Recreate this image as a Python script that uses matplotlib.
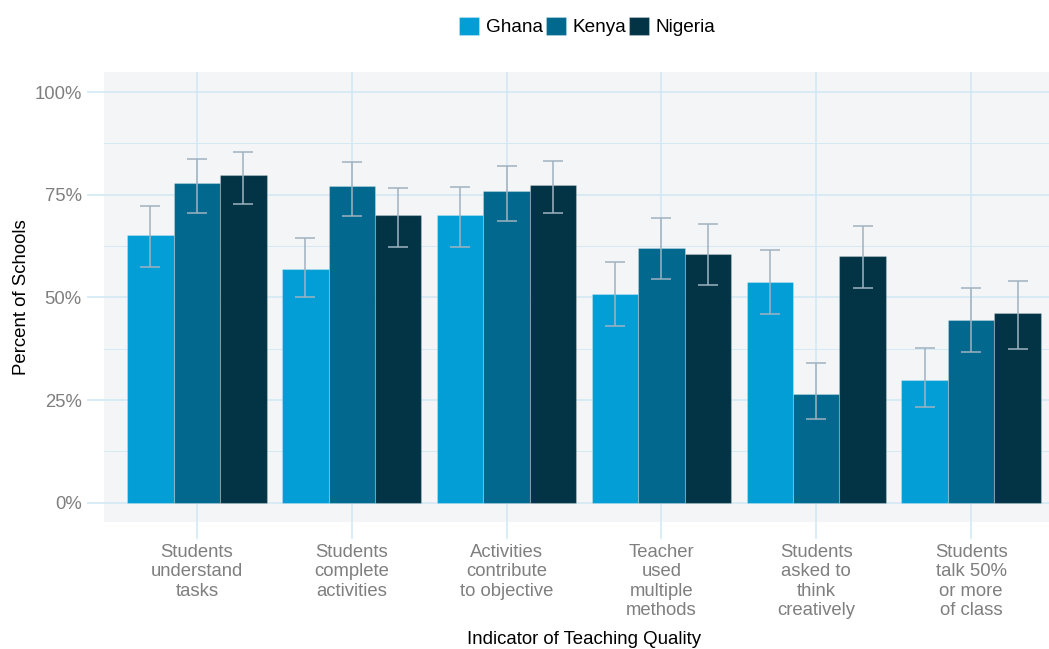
import numpy as np
import matplotlib.pyplot as plt

plt.rcParams['font.family'] = ['Liberation Sans', 'DejaVu Sans']

# Данные: доля школ по индикаторам качества преподавания
categories = ["Students\nunderstand\ntasks", "Students\ncomplete\nactivities",
              "Activities\ncontribute\nto objective", "Teacher\nused\nmultiple\nmethods",
              "Students\nasked to\nthink\ncreatively", "Students\ntalk 50%\nor more\nof class"]
countries = ["Ghana", "Kenya", "Nigeria"]
colors = ["#039ed5", "#02688e", "#023446"]

ghana = [65.2, 56.9, 70.1, 50.9, 53.8, 29.9]
kenya = [77.8, 77.1, 75.9, 62.0, 26.5, 44.5]
nigeria = [79.8, 70.1, 77.4, 60.6, 60.1, 46.2]

ghana_lo = [57.4, 50.1, 62.3, 43.1, 46.0, 23.4]
ghana_hi = [72.3, 64.5, 76.9, 58.6, 61.6, 37.7]
kenya_lo = [70.6, 69.8, 68.6, 54.5, 20.4, 36.7]
kenya_hi = [83.7, 83.0, 82.0, 69.3, 34.1, 52.3]
nigeria_lo = [72.7, 62.3, 70.6, 53.0, 52.3, 37.5]
nigeria_hi = [85.4, 76.6, 83.2, 67.9, 67.4, 54.0]

values = [ghana, kenya, nigeria]
lows = [ghana_lo, kenya_lo, nigeria_lo]
highs = [ghana_hi, kenya_hi, nigeria_hi]

W, H = 1049, 649
fig = plt.figure(figsize=(W / 100, H / 100), dpi=100)
# панель выходит за правый край рисунка, как в оригинале
ax = fig.add_axes([104 / W, (H - 522) / H, 960 / W, (522 - 72) / H])
ax.set_facecolor("#f3f5f7")

x = np.arange(len(categories))
width = 0.3
grid_c = "#d0e7f3"

ax.set_yticks([0, 25, 50, 75, 100])
ax.set_yticks([12.5, 37.5, 62.5, 87.5], minor=True)
ax.set_xticks(x)
ax.grid(True, which="major", color=grid_c, linewidth=1.1)
ax.grid(True, which="minor", axis="y", color=grid_c, linewidth=0.6)
ax.set_axisbelow(True)

for i, (name, c) in enumerate(zip(countries, colors)):
    pos = x + (i - 1) * width
    v = np.array(values[i])
    err = [v - np.array(lows[i]), np.array(highs[i]) - v]
    ax.bar(pos, v, width, color=c, label=name, edgecolor=(1, 1, 1, 0.25), linewidth=0.8, zorder=2)
    ax.errorbar(pos, v, yerr=err, fmt="none", ecolor="#9fb2c0", elinewidth=1.3,
                capsize=7.5, capthick=1.3, alpha=0.85, zorder=3)

ax.set_xlim(-0.6, 5.6)
ax.set_ylim(-4.7, 104.9)
ax.set_yticklabels(["0%", "25%", "50%", "75%", "100%"])
ax.set_xticklabels(categories, linespacing=1.17)

for s in ax.spines.values():
    s.set_visible(False)
ax.tick_params(axis="both", which="major", color=grid_c, length=12, width=1.1,
               labelsize=13.3, labelcolor="#7f7f7f", pad=4)
ax.tick_params(axis="y", which="minor", length=0)

ax.set_ylabel("Percent of Schools", fontsize=13.4, color="black", labelpad=3)
ax.set_xlabel("Indicator of Teaching Quality", fontsize=13.4, color="black", labelpad=9)

fig.legend(loc="upper center", bbox_to_anchor=(0.56, 1.0), ncol=3, frameon=False,
           fontsize=13.7, handlelength=1.05, handleheight=1.05, handletextpad=0.35,
           columnspacing=0.15)

fig.savefig("out.png", dpi=100)
